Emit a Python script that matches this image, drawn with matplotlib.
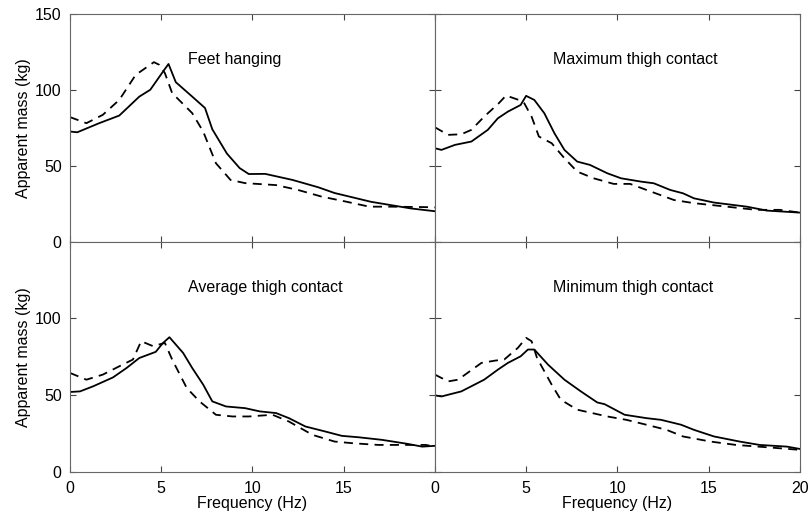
import numpy as np
import matplotlib
matplotlib.use("Agg")
import matplotlib.pyplot as plt

plt.rcParams['font.family'] = ['Liberation Sans', 'DejaVu Sans']

titles = ["Feet hanging", "Maximum thigh contact",
          "Average thigh contact", "Minimum thigh contact"]

# feet hanging
fh_solid_f = [0, 0.4, 1.6, 2.7, 3.8, 4.4, 5.1, 5.4, 5.8, 6.7, 7.4, 7.8, 8.6, 9.3,
              9.8, 10.7, 12.2, 13.6, 14.5, 16.5, 18.7, 20]
fh_solid_m = [72.5, 72, 78, 83, 95.5, 100, 112, 117, 105, 95.5, 88, 74, 58, 48.4,
              44.5, 44.6, 40.6, 35.8, 32, 26.2, 21.8, 20]
fh_dash_f = [0, 0.9, 1.8, 2.7, 3.6, 4.6, 4.9, 5.2, 5.6, 6.7, 7.3, 8.0, 8.8, 9.6,
             11.3, 12.5, 13.8, 15.1, 16.4, 17.6, 19.5, 20]
fh_dash_m = [82, 78, 83.5, 93.3, 109.8, 118.2, 116.4, 111, 97.8, 84.6, 72.5, 51.6,
             40.6, 38.5, 37.2, 34, 29.6, 26.4, 23, 23, 22.7, 22.5]

# maximum thigh contact
mx_solid_f = [0, 0.36, 1.1, 2.0, 2.9, 3.45, 4.0, 4.7, 5.0, 5.45, 6.0, 6.55, 7.1, 7.8,
              8.5, 9.45, 10.2, 11.3, 12.0, 12.9, 13.6, 14.2, 15.3, 17.1, 18.2, 20]
mx_solid_m = [61.5, 60.4, 63.7, 65.9, 73.6, 81.2, 85.6, 90, 96, 93.3, 84.5, 71.4, 60.4,
              52.7, 50.5, 45, 41.7, 39.5, 38.4, 34, 31.8, 28.5, 25.7, 23, 20.4, 19.1]
mx_dash_f = [0, 0.73, 1.45, 2.0, 2.7, 3.5, 3.9, 4.6, 4.9, 5.3, 5.7, 6.4, 7.1, 7.8,
             8.7, 9.8, 10.7, 11.6, 13.1, 14.2, 16.0, 17.6, 18.9, 20]
mx_dash_m = [75.3, 70.3, 70.7, 73.6, 82.3, 91.1, 96.2, 93.3, 91.1, 82.3, 69.2, 64.8,
             54.9, 46.1, 41.7, 38, 38, 34, 27.4, 25.3, 23, 20.9, 20.9, 19.1]

# average thigh contact
av_solid_f = [0, 0.55, 1.27, 2.36, 3.1, 3.8, 4.7, 5.1, 5.45, 6.2, 6.7, 7.3, 7.8, 8.55,
              9.6, 10.4, 11.3, 12.0, 12.9, 14.0, 14.9, 15.8, 17.1, 18.5, 19.3, 20]
av_solid_m = [52.2, 52.6, 55.9, 61.7, 67.8, 74.3, 78.3, 84.1, 87.8, 77.6, 67.8, 57,
              46.1, 42.8, 41.7, 39.6, 38.5, 35.2, 29.8, 26.5, 23.7, 22.8, 21.1, 18.5,
              16.7, 17.2]
av_dash_f = [0, 0.9, 1.8, 2.7, 3.45, 3.9, 4.55, 5.2, 5.6, 6.4, 7.1, 8.0, 8.9, 9.8,
             11.1, 12.0, 13.3, 14.5, 15.5, 16.9, 18.4, 19.5, 20]
av_dash_m = [64.6, 60.2, 63.5, 68.9, 73.3, 85.2, 82, 84.1, 73.3, 54.8, 46.1, 37.4,
             36.3, 36.3, 37.4, 33, 24.3, 20, 18.9, 17.8, 17.8, 17.8, 16.7]

# minimum thigh contact
mn_solid_f = [0, 0.36, 1.45, 2.7, 3.45, 4.0, 4.7, 5.1, 5.45, 6.2, 7.1, 8.0, 8.9, 9.3,
              10.4, 11.6, 12.4, 13.5, 14.2, 15.3, 16.7, 17.8, 19.3, 20]
mn_solid_m = [50, 49.3, 52.6, 60.2, 66.7, 71.1, 75.4, 79.8, 79.8, 70, 60.2, 52.6, 45.4,
              44.3, 37.4, 35.2, 34.1, 30.9, 27.6, 23.3, 20, 17.8, 16.7, 15.2]
mn_dash_f = [0, 0.73, 1.27, 2.55, 3.3, 3.8, 4.55, 5.0, 5.3, 5.6, 6.4, 6.9, 7.8, 9.45,
             10.5, 11.6, 12.7, 13.6, 15.1, 16.5, 18.4, 20]
mn_dash_m = [63.5, 59.1, 60.2, 71.1, 72.6, 73.3, 80.9, 87.4, 85.2, 74.3, 57, 47.2,
             40.7, 36.3, 34.1, 30.9, 27.6, 23.3, 20, 17.8, 16.1, 14.6]

solid = [(fh_solid_f, fh_solid_m), (mx_solid_f, mx_solid_m),
         (av_solid_f, av_solid_m), (mn_solid_f, mn_solid_m)]
dashed = [(fh_dash_f, fh_dash_m), (mx_dash_f, mx_dash_m),
          (av_dash_f, av_dash_m), (mn_dash_f, mn_dash_m)]
title_x = [0.45, 0.548, 0.535, 0.542]

fig = plt.figure(figsize=(8.1, 5.14), dpi=100)
W = 0.4505
rects = [[0.0864, 0.530, W, 0.443], [0.0864 + W, 0.530, W, 0.443],
         [0.0864, 0.0811, W, 0.449], [0.0864 + W, 0.0811, W, 0.449]]

for i in range(4):
    ax = fig.add_axes(rects[i])
    ax.plot(*solid[i], color='black', lw=1.3)
    ax.plot(*dashed[i], color='black', lw=1.3, linestyle=(0, (5, 3.5)))
    ax.set_xlim(0, 20)
    ax.set_ylim(0, 150)
    ax.text(title_x[i], 0.80, titles[i], transform=ax.transAxes,
            ha='center', va='center', fontsize=11.5)
    ax.tick_params(direction='in', top=True, right=True, length=4,
                   width=0.8, labelsize=11.5, pad=6, color='#444444')
    for s in ax.spines.values():
        s.set_color('#666666')
        s.set_linewidth(0.8)
    col = i % 2
    row = i // 2
    if row == 1:
        ax.set_xticks([0, 5, 10, 15] if col == 0 else [0, 5, 10, 15, 20])
        ax.set_xlabel("Frequency (Hz)", fontsize=11.5, labelpad=0)
    else:
        ax.set_xticks([0, 5, 10, 15, 20])
        ax.set_xticklabels([])
    if col == 0:
        ax.set_yticks([0, 50, 100, 150] if row == 0 else [0, 50, 100])
        ax.set_ylabel("Apparent mass (kg)", fontsize=11.5, labelpad=3)
    else:
        ax.set_yticks([0, 50, 100, 150])
        ax.set_yticklabels([])

fig.savefig("out.png", dpi=100)
